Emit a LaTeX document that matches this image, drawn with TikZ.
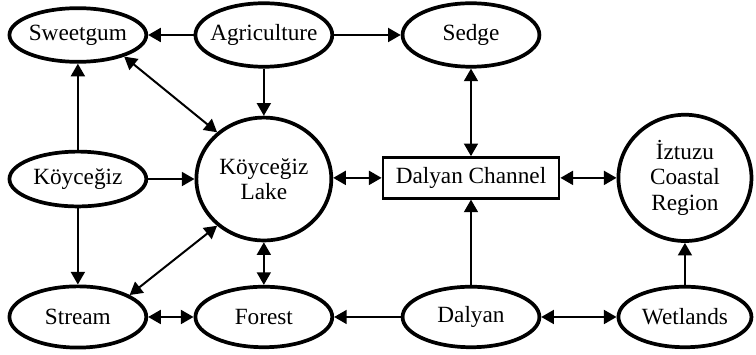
\documentclass[tikz,border=0pt]{standalone}
\usepackage{fontspec}
\setmainfont{Liberation Serif}
\usetikzlibrary{shapes,arrows.meta}
\tikzstyle{line} = [draw, line width=1.5pt, -{Triangle[length=9.5pt,width=10.5pt]}]
\tikzstyle{twoway} = [line, {Triangle[length=9.5pt,width=10.5pt]}-{Triangle[length=9.5pt,width=10.5pt]}]

\begin{document}
\begin{tikzpicture}[auto,
        font=\fontsize{17.5}{19}\selectfont,
        cloud/.style={draw, ellipse, line width=2.8pt, inner xsep=-3mm,
            inner ysep=0pt, minimum width=3.62cm, minimum height=1.6cm},
        lake/.style={cloud, align=center, minimum width=3.57cm,
            minimum height=3.25cm},
        channel/.style={draw, rectangle, line width=2pt,
            minimum width=4.66cm, minimum height=1.08cm}]
        \useasboundingbox (0,0) rectangle (20,9.366);
        %% Vertices
        \node [cloud, minimum height=1.42cm] at (2.06,8.44) (Sweetgum) {Sweetgum};
        \node [cloud, minimum height=1.68cm] at (6.98,8.44) (Agriculture) {Agriculture};
        \node [cloud, minimum height=1.68cm] at (12.46,8.44) (Sedge) {Sedge};
        \node [cloud, minimum height=1.45cm] at (2.06,4.63) (Koycegiz) {Köyceğiz};
        \node [lake] at (6.98,4.63) (Lake) {Köyceğiz\\Lake};
        \node [channel] at (12.46,4.66) (Channel) {Dalyan Channel};
        \node [lake, minimum width=3.52cm, minimum height=3.34cm] at (18.12,4.66) (Iztuzu) {İztuzu\\Coastal\\Region};
        \node [cloud, minimum height=1.62cm] at (2.06,0.98) (Stream) {Stream};
        \node [cloud] at (6.98,0.98) (Forest) {Forest};
        \node [cloud] at (12.46,0.98) (Dalyan) {Dalyan};
        \node [cloud, minimum width=3.52cm] at (18.12,0.98) (Wetlands) {Wetlands};
        %% Arcs
        \path [line] (Agriculture) to (Sweetgum);
        \path [line] (Agriculture) to (Sedge);
        \path [line] (Agriculture) to (Lake);
        \path [twoway] (Sweetgum.-25) to (Lake.135);
        \path [line] (Koycegiz) to (Sweetgum);
        \path [line] (Koycegiz) to (Lake);
        \path [line] (Koycegiz) to (Stream);
        \path [twoway] (Stream.23) to (Lake.225);
        \path [twoway] (Lake) to (Forest);
        \path [twoway] (Stream) to (Forest);
        \path [line] (Dalyan) to (Forest);
        \path [twoway] (Lake.east |- Channel) to (Channel);
        \path [twoway] (Sedge) to (Channel);
        \path [twoway] (Channel) to (Iztuzu);
        \path [line] (Dalyan) to (Channel);
        \path [twoway] (Dalyan) to (Wetlands);
        \path [line] (Wetlands) to (Iztuzu);
    \end{tikzpicture}
\end{document}
